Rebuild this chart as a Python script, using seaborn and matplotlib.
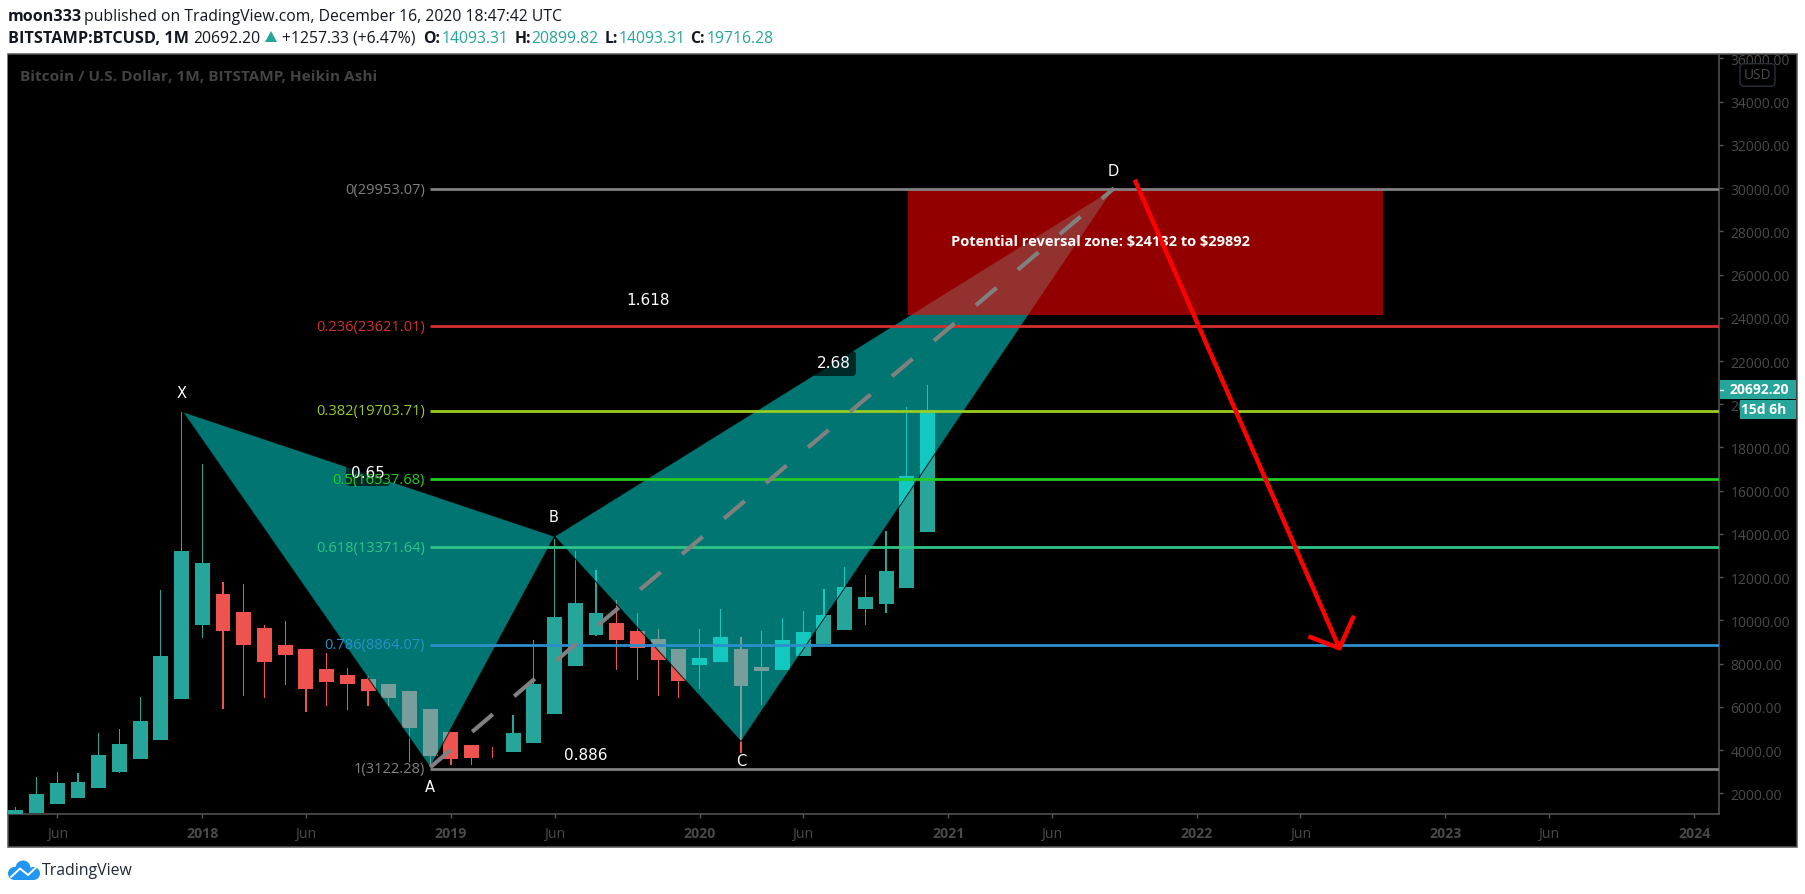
import matplotlib
matplotlib.use("Agg")
import matplotlib.pyplot as plt
from matplotlib.patches import Rectangle, FancyBboxPatch, Circle
import pandas as pd
import seaborn as sns

# months counted from Jan 2018 = 0
months = list(range(-9, 36))
opens = [1000, 1086, 1502, 1780, 2243, 2983, 3584, 4464, 6361, 9785, 11220, 10387, 9647, 8860, 8675, 7749, 7472, 7286, 7055, 6731, 5898, 4834, 4232, 3924,
         3908, 4325, 5667, 7888, 9323, 9878, 9508, 9137, 8675, 7934, 8073, 8675, 7842, 7703, 8351, 8906, 9554, 10526, 10757, 11498, 14093]
closes = [1225, 1965, 2474, 2520, 3770, 4279, 5343, 8351, 13210, 12654, 9508, 8860, 8073, 8397, 6824, 7148, 7055, 6731, 6407, 5019, 3723, 3584, 3631, 3893,
          4788, 7055, 10156, 10803, 10341, 9091, 8721, 8166, 7194, 8258, 9230, 6963, 7657, 9091, 9461, 10248, 11544, 11081, 12284, 16680, 19716]
highs = [1347, 2752, 2967, 2921, 4788, 4973, 6454, 11405, 19657, 17236, 11775, 11683, 9785, 9970, 8675, 8490, 7796, 7425, 7055, 6731, 5898, 4834, 4232, 4140,
         5621, 9091, 13765, 13210, 12330, 10942, 10341, 9600, 8675, 9600, 10526, 9230, 9508, 10109, 10433, 11451, 12469, 12099, 14135, 19873, 20899]
lows = [1000, 1086, 1502, 1780, 2243, 2937, 3584, 4464, 6361, 9184, 5898, 6500, 6407, 7009, 5759, 6037, 5852, 6037, 6037, 3446, 3199, 3307, 3307, 3631,
        3908, 4325, 5667, 7888, 9276, 7703, 7240, 6500, 6407, 6824, 8073, 3847, 6083, 7703, 8351, 8906, 9554, 9785, 10341, 11498, 14093]

x_tick_pos = [-7, 0, 5, 12, 17, 24, 29, 36, 41, 48, 53, 60, 65, 72]
x_tick_txt = ["Jun", "2018", "Jun", "2019", "Jun", "2020", "Jun", "2021", "Jun", "2022", "Jun", "2023", "Jun", "2024"]
y_ticks = list(range(2000, 36001, 2000))

fib_levels = [29953.07, 23621.01, 19703.71, 16537.68, 13371.64, 8864.07, 3122.28]
fib_text = ["0(29953.07)", "0.236(23621.01)", "0.382(19703.71)", "0.5(16537.68)", "0.618(13371.64)", "0.786(8864.07)", "1(3122.28)"]
fib_colors = ["#808080", "#D32F2F", "#9ACD22", "#22CC22", "#2FC487", "#2A8FCB", "#808080"]

xab_x, xab_y = [-0.95, 11, 17], [19656, 3199, 13888]
bcd_x, bcd_y = [17, 26, 44], [13888, 4387, 29992]
ad_x, ad_y = [11, 44], [3199, 29992]
zone_x, zone_y = [34.06, 56.97], [24132, 29892]
arrow_x, arrow_y = [45.0, 54.88], [30391, 8707]
head_x, head_y = [53.38, 54.88, 55.58], [9262, 8707, 10216]

UP, DOWN = "#26A69A", "#EF5350"
GREY = "#4A4A4A"
AXC = "#555555"
W, H = 1805, 895

sns.set_theme(style="white")
plt.rcParams["font.family"] = ["Open Sans", "DejaVu Sans"]

fig = plt.figure(figsize=(W / 100, H / 100), dpi=100, facecolor="white")

# panel behind chart and price scale
bg = fig.add_axes([0, 0, 1, 1], zorder=0)
bg.set_xlim(0, W); bg.set_ylim(H, 0); bg.axis("off")
bg.add_patch(Rectangle((8, 55), 1789, 793, fc="black", ec=AXC, lw=1.1))

ax = fig.add_axes([8 / W, (H - 815) / H, (1719 - 8) / W, (815 - 55.5) / H], zorder=1, facecolor="black")

deco = fig.add_axes([0, 0, 1, 1], zorder=2)
deco.set_xlim(0, W); deco.set_ylim(H, 0); deco.axis("off"); deco.patch.set_alpha(0)
px = deco.transData

df = pd.DataFrame({"m": months, "o": opens, "c": closes, "h": highs, "l": lows})
df["top"] = df[["o", "c"]].max(axis=1)
df["bot"] = df[["o", "c"]].min(axis=1)
up = df[df.c >= df.o]
dn = df[df.c < df.o]
for sub, col in ((up, UP), (dn, DOWN)):
    sns.barplot(x=sub.m.values, y=(sub.h - sub.l).values, bottom=sub.l.values, color=col, width=0.06,
                native_scale=True, errorbar=None, saturation=1, linewidth=0, antialiased=False, ax=ax, zorder=2)
    sns.barplot(x=sub.m.values, y=(sub.top - sub.bot).values, bottom=sub.bot.values, color=col, width=0.72,
                native_scale=True, errorbar=None, saturation=1, linewidth=0, antialiased=False, ax=ax, zorder=3)

ax.set_xlim(-9.377, 73.2)
ax.set_ylim(1039, 36185)
ax.set(xlabel="", ylabel="")
ax.grid(False)

# harmonic pattern
for xs, ys in ((xab_x, xab_y), (bcd_x, bcd_y)):
    ax.fill(xs, ys, facecolor=(0, 234 / 255, 228 / 255, 0.5), edgecolor=(0, 0, 0, 0.75), lw=0.8, zorder=4)

# fib levels
for lev, col in zip(fib_levels, fib_colors):
    ax.hlines(lev, 11, 73.2, color=col, lw=2.0, zorder=6)

# dashed A-D
ax.plot(ad_x, ad_y, color="#808080", lw=3.0, dashes=(6.5, 6.7), dash_capstyle="butt", zorder=7)

# reversal zone
ax.fill_between(zone_x, zone_y[0], zone_y[1], color=(1, 0, 0, 0.58), lw=0, zorder=5)
ax.text(951, 242, r"Potential reversal zone: \$24132 to \$29892", transform=px, color="white", fontsize=10.55,
        fontweight="bold", va="center", ha="left", zorder=8)

# red arrow
ax.plot(arrow_x, arrow_y, color="#FF0000", lw=3.2, solid_capstyle="butt", zorder=9)
ax.plot(head_x, head_y, color="#FF0000", lw=3.2, solid_capstyle="butt", solid_joinstyle="round", zorder=9)

# point labels
for t, x, y in (("X", 182, 393), ("A", 430, 788), ("B", 554, 517), ("C", 741, 761), ("D", 1113, 171.5)):
    ax.text(x, y, t, transform=px, color="white", fontsize=10.5, ha="center", va="center", zorder=10, family="DejaVu Sans")

# ratio labels
for xb, yb in ((812, 352), (346, 462)):
    ax.add_patch(FancyBboxPatch((xb + 3, yb + 3), 38, 19, boxstyle="round,pad=3,rounding_size=4", fc=(0, 0, 0, 0.65),
                                ec="none", transform=px, zorder=8))
for t, x, y in (("1.618", 648, 300.5), ("2.68", 834, 363.5), ("0.65", 368, 474), ("0.886", 586, 755.5)):
    ax.text(x, y, t, transform=px, color="white", fontsize=11, ha="center", va="center", zorder=10, family="DejaVu Sans")

for lev, t, col in zip(fib_levels, fib_text, fib_colors):
    ax.text(10.75, lev, t, color=col, fontsize=10.5, ha="right", va="center", zorder=11)

# axes
for s in ("top", "left"):
    ax.spines[s].set_visible(False)
for s in ("right", "bottom"):
    ax.spines[s].set_visible(True)
    ax.spines[s].set_color(AXC)
    ax.spines[s].set_linewidth(1.1)
ax.yaxis.tick_right()
ax.set_yticks(y_ticks)
ax.set_yticklabels([f"{v:.2f}" for v in y_ticks])
ax.set_xticks(x_tick_pos)
ax.set_xticklabels(x_tick_txt)
ax.tick_params(axis="y", right=True, left=False, length=3, width=1, color=AXC, labelcolor=GREY, labelsize=10, pad=5.2)
ax.tick_params(axis="x", bottom=True, length=3, width=1, color=AXC, labelcolor=GREY, labelsize=10.2, pad=6)
for lab, t in zip(ax.get_xticklabels(), x_tick_txt):
    if t != "Jun":
        lab.set_fontweight("bold")

# header
deco.add_patch(Rectangle((0, 0), W, 54.4, fc="white", ec="none", zorder=1))
INK = "#131722"
def head(x, y, t, col=INK, w="normal", fs=11.3):
    deco.text(x, y, t, color=col, fontsize=fs, fontweight=w, va="center", ha="left", zorder=3)
head(8, 16.5, "moon333", w="bold", fs=11.6)
head(84.5, 16.5, "published on TradingView.com, December 16, 2020 18:47:42 UTC")
head(8, 38.5, "BITSTAMP:BTCUSD, 1M", w="bold", fs=11.7)
head(193, 38.5, "20692.20")
deco.fill([265, 277, 271], [43, 43, 32], color=UP, lw=0, zorder=3)
head(282.5, 38.5, "+1257.33 (+6.47%)")
for xl, tl, xv, tv in ((423, "O:", 442, "14093.31"), (515, "H:", 531.5, "20899.82"), (605, "L:", 619, "14093.31"), (690.5, "C:", 707, "19716.28")):
    head(xl, 38.5, tl, w="bold")
    head(xv, 38.5, tv, col=UP)

deco.text(20, 77, "Bitcoin / U.S. Dollar, 1M, BITSTAMP, Heikin Ashi", color="#434343", fontsize=11.1,
          fontweight="bold", va="center", ha="left", zorder=3)

# price scale tags
deco.add_patch(FancyBboxPatch((1742, 66.7), 31, 18.5, boxstyle="round,pad=2,rounding_size=4", fc="black", ec="#2A2E39", lw=1, zorder=2))
deco.text(1757.5, 75.5, "USD", color=GREY, fontsize=9.8, ha="center", va="center", zorder=3)
deco.add_patch(Rectangle((1719.5, 381), 76.5, 19, fc=UP, ec="none", zorder=2))
deco.plot([1719.5, 1723], [390.5, 390.5], color="white", lw=1, zorder=3)
deco.text(1730, 390.3, "20692.20", color="white", fontsize=10, fontweight="bold", va="center", zorder=3)
deco.add_patch(Rectangle((1740, 401), 56, 18.5, fc=UP, ec="none", zorder=2))
deco.text(1786, 410, "15d 6h", color="white", fontsize=10, fontweight="bold", va="center", ha="right", zorder=3)

# logo
BLUE = "#2196F3"
for cx, cy, r in ((14.5, 874.5, 6.5), (23, 869, 7.5), (33.5, 874.5, 6.5)):
    deco.add_patch(Circle((cx, cy), r, fc=BLUE, ec="none", zorder=2))
deco.add_patch(Rectangle((14, 874), 20, 7, fc=BLUE, ec="none", zorder=2))
deco.plot([11, 20, 28, 36], [878, 869.5, 876, 868.5], color="white", lw=1.4, zorder=3)
deco.text(42, 871, "TradingView", color="#1F2937", fontsize=11.4, va="center", ha="left", zorder=3)

fig.savefig("out.png", dpi=100, facecolor="white")
